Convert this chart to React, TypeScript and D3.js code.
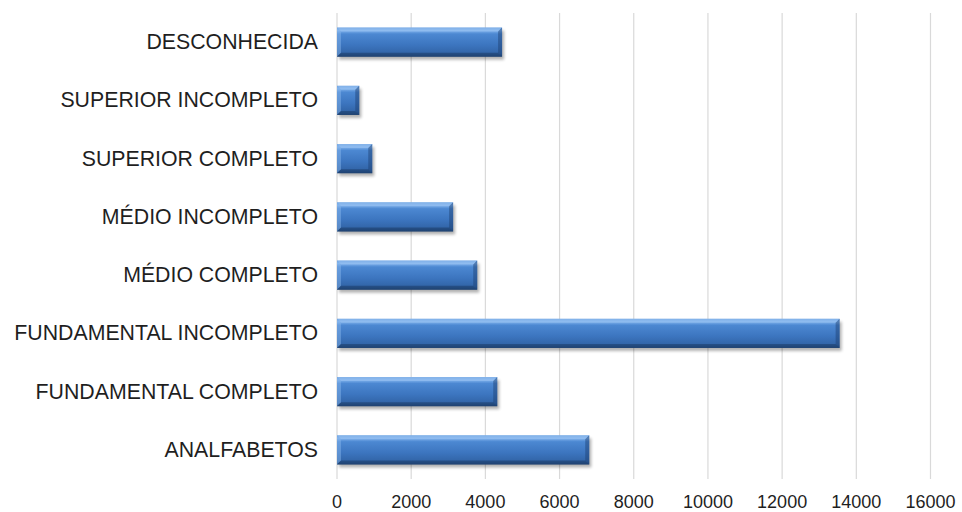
import React from "react";
import * as d3 from "d3";

const categories = [
  "DESCONHECIDA",
  "SUPERIOR INCOMPLETO",
  "SUPERIOR COMPLETO",
  "MÉDIO INCOMPLETO",
  "MÉDIO COMPLETO",
  "FUNDAMENTAL INCOMPLETO",
  "FUNDAMENTAL COMPLETO",
  "ANALFABETOS",
];
const values = [4450, 600, 950, 3130, 3780, 13550, 4320, 6800];
const ticks = [0, 2000, 4000, 6000, 8000, 10000, 12000, 14000, 16000];

const W = 962;
const H = 512;
const left = 337;
const right = 930.5;
const top = 13;
const bottom = 479;
const font = "'Liberation Sans', Arial, sans-serif";

export default function App() {
  const x = d3.scaleLinear().domain([0, 16000]).range([left, right]);
  const y = d3
    .scaleBand<string>()
    .domain(categories)
    .range([top, bottom])
    .paddingInner(0.5)
    .paddingOuter(0.25);
  const bh = y.bandwidth();
  const bev = 4;

  return (
    <svg width={W} height={H} style={{ position: "absolute", left: 0, top: 0, background: "#fff" }}>
      <defs>
        <linearGradient id="barFill" x1="0" y1="0" x2="0" y2="1">
          <stop offset="0" stopColor="#5d97dd" />
          <stop offset="0.1" stopColor="#80b2ec" />
          <stop offset="0.22" stopColor="#4c88d2" />
          <stop offset="0.6" stopColor="#3c75bf" />
          <stop offset="0.88" stopColor="#3265a8" />
          <stop offset="1" stopColor="#244a7d" />
        </linearGradient>
        <filter id="shadow" x="-10%" y="-30%" width="120%" height="190%">
          <feGaussianBlur stdDeviation="1.8" />
        </filter>
      </defs>

      {/* vertical gridlines */}
      {ticks.map((t) => (
        <line key={t} x1={x(t)} x2={x(t)} y1={top} y2={bottom} stroke="#d9d9d9" strokeWidth={1.2} />
      ))}

      {/* bars */}
      {categories.map((c, i) => {
        const y0 = y(c)!;
        const x0 = x(0);
        const x1 = x(values[i]);
        const w = x1 - x0;
        const b = Math.min(bev, w / 3);
        return (
          <g key={c}>
            <rect x={x0 + 2} y={y0 + 3} width={w} height={bh} fill="#000" opacity={0.3} filter="url(#shadow)" />
            <rect x={x0} y={y0} width={w} height={bh} fill="url(#barFill)" />
            {/* bevelled edges */}
            <polygon
              points={`${x0},${y0} ${x1},${y0} ${x1 - b},${y0 + b} ${x0 + b},${y0 + b}`}
              fill="#9cc4f2"
              opacity={0.55}
            />
            <polygon
              points={`${x0},${y0} ${x0 + b},${y0 + b} ${x0 + b},${y0 + bh - b} ${x0},${y0 + bh}`}
              fill="#8ab8ee"
              opacity={0.45}
            />
            <polygon
              points={`${x1},${y0} ${x1},${y0 + bh} ${x1 - b},${y0 + bh - b} ${x1 - b},${y0 + b}`}
              fill="#1d3f6e"
              opacity={0.45}
            />
            <polygon
              points={`${x0},${y0 + bh} ${x1},${y0 + bh} ${x1 - b},${y0 + bh - b} ${x0 + b},${y0 + bh - b}`}
              fill="#1c3c68"
              opacity={0.55}
            />
          </g>
        );
      })}

      {/* category labels */}
      {categories.map((c) => (
        <text
          key={c}
          x={318}
          y={y(c)! + bh / 2}
          textAnchor="end"
          dominantBaseline="central"
          fontFamily={font}
          fontSize={21.3}
          fill="#1f1f1f"
        >
          {c}
        </text>
      ))}

      {/* x tick labels */}
      {ticks.map((t) => (
        <text
          key={t}
          x={x(t)}
          y={508}
          textAnchor="middle"
          fontFamily={font}
          fontSize={18}
          fill="#1f1f1f"
        >
          {t}
        </text>
      ))}
    </svg>
  );
}
